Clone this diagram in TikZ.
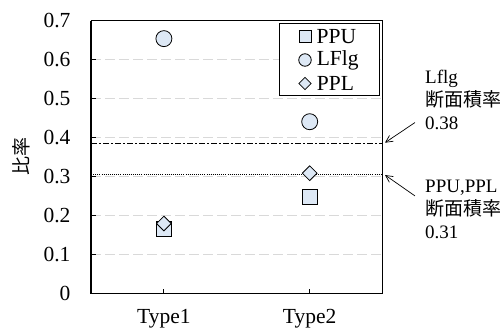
\documentclass[tikz,border=0pt]{standalone}
\usepackage{fontspec}
\setmainfont{Liberation Serif}
\newfontfamily\jpfont{Noto Sans CJK JP}
\usetikzlibrary{arrows.meta,shapes.geometric,positioning}
\definecolor{MarkBlue}{RGB}{221,232,245}
\definecolor{GridGray}{RGB}{217,217,217}

\tikzset{
  mark base/.style={draw=black,fill=MarkBlue,line width=0.8pt,inner sep=0pt},
  markU/.style={mark base,rectangle,minimum size=#1},
  markF/.style={mark base,circle,minimum size=#1},
  markP/.style={mark base,diamond,minimum width=#1,minimum height=#1},
  ticklab/.style={inner sep=0pt,font=\fontsize{21.5}{24}\selectfont},
  note/.style={inner sep=0pt,align=left,font=\fontsize{19}{23}\selectfont},
}

\begin{document}
\begin{tikzpicture}[x=145.8pt,y=390pt,>={Straight Barb[length=7pt,width=7pt]}]
  \useasboundingbox (-91pt,-35.3pt) rectangle (412pt,293.7pt);
  % grid
  \foreach \v in {1,...,6}
    \draw[GridGray,line width=1.5pt,dash pattern=on 9.5pt off 4.5pt] (0,\v/10) -- (2,\v/10);
  % section-ratio lines
  \draw[line width=1.1pt,dash pattern=on 6pt off 2.2pt on 1.6pt off 2.2pt] (0,0.384) -- (2,0.384);
  \draw[line width=0.9pt,dash pattern=on 1pt off 1.1pt] (0,0.306) -- (2,0.306);
  % frame and axes
  \draw[line width=0.9pt] (0,0.7) -- (2,0.7) -- (2,0);
  \draw[line width=1.6pt] (0,0.7) -- (0,0) -- (2,0);
  \foreach \v in {0,...,7}{
    \draw[line width=1pt] (0,\v/10) -- ++(5pt,0);
    \node[ticklab,anchor=east] (yl\v) at (-20.3pt,\v/10) {\ifnum\v=0 0\else 0.\v\fi};
  }
  \foreach \c/\n in {0.5/1,1.5/2}{
    \draw[line width=1pt] (\c,0) -- ++(0,5pt);
    \node[ticklab,anchor=base] (xl\n) at (\c,-29.6pt) {Type\n};
  }
  \node[rotate=90,inner sep=0pt,font=\jpfont\fontsize{19}{23}\selectfont] (ylab) at (-70pt,0.351) {比率};

  % data
  \node[markU=15pt] (u1) at (0.5,0.165) {};
  \node[markF=16pt] (f1) at (0.5,0.654) {};
  \node[markP=15pt] (p1) at (0.5,0.180) {};
  \node[markU=15pt] (u2) at (1.5,0.249) {};
  \node[markF=16pt] (f2) at (1.5,0.441) {};
  \node[markP=15pt] (p2) at (1.5,0.309) {};

  % legend
  \node[draw,line width=1pt,fill=white,minimum width=100.7pt,minimum height=72pt,inner sep=0pt]
    (legend) at (238.6pt,233.7pt) {};
  \node[markU=12pt] (ku) at (214pt,257pt) {};
  \node[markF=12.5pt] (kf) at (214pt,233.7pt) {};
  \node[markP=12.5pt] (kp) at (214pt,210.2pt) {};
  \node[ticklab,right=5pt of ku] {PPU};
  \node[ticklab,right=5pt of kf] {LFlg};
  \node[ticklab,right=5pt of kp] {PPL};

  % notes
  \node[note,anchor=west] (lflgNote) at (334pt,194.2pt) {Lflg\\{\jpfont 断面積率}\\0.38};
  \node[note,anchor=west] (ppNote) at (334pt,84.2pt) {PPU,PPL\\{\jpfont 断面積率}\\0.31};
  \coordinate (lflgTip) at (294pt,151pt);
  \coordinate (ppTip) at (294pt,118.7pt);
  \draw[->,line width=0.7pt] ([shift={(-10pt,7pt)}]lflgNote.south west) -- (lflgTip);
  \draw[->,line width=0.7pt] ([shift={(-10pt,-16pt)}]ppNote.north west) -- (ppTip);
\end{tikzpicture}
\end{document}
